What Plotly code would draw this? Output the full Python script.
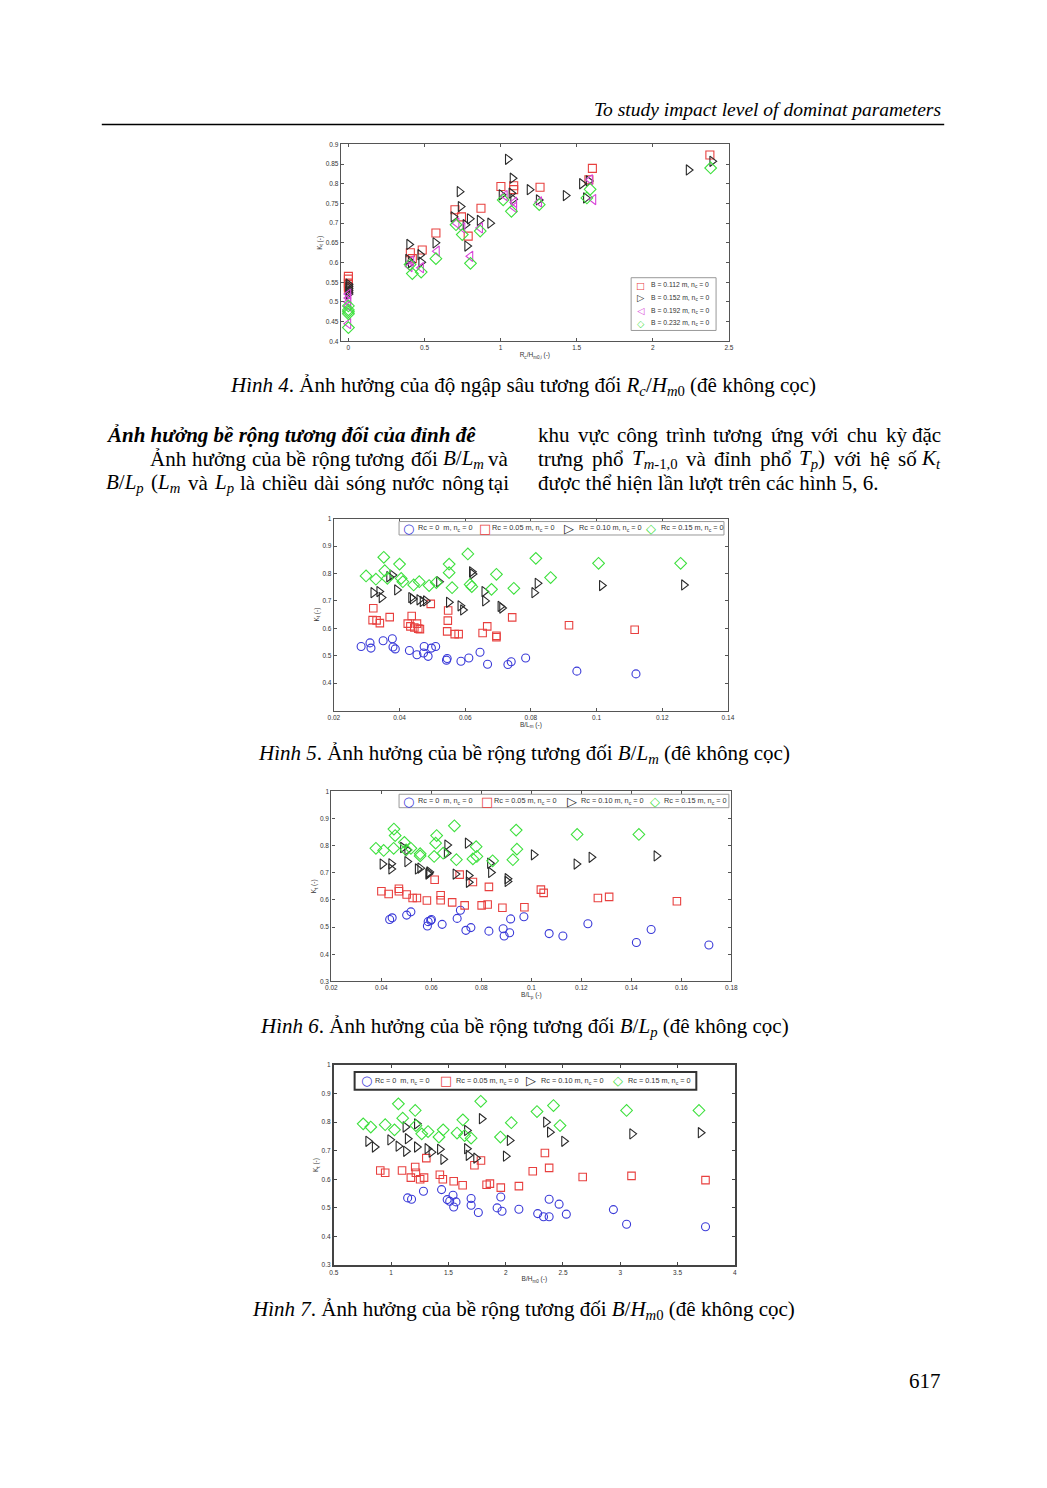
import re
import unicodedata
import plotly.graph_objects as go

W, H = 1047, 1488

# ---------------- Figure 4 data (Kt vs Rc/Hm0,i) ----------------
f4_b112_x = [0, 0, 0, 0, 0, 0.407, 0.42, 0.485, 0.575, 0.70, 0.743, 0.787, 0.871, 1.002, 1.086, 1.086, 1.259, 1.58, 1.603, 2.375]
f4_b112_y = [0.565, 0.558, 0.548, 0.54, 0.535, 0.625, 0.61, 0.632, 0.675, 0.734, 0.716, 0.667, 0.738, 0.793, 0.795, 0.785, 0.791, 0.81, 0.839, 0.873]
f4_b152_x = [0, 0, 0, 0, 0, 0, 0.392, 0.399, 0.41, 0.472, 0.478, 0.571, 0.69, 0.73, 0.737, 0.769, 0.78, 0.797, 0.862, 0.931,
             1.006, 1.047, 1.071, 1.078, 1.082, 1.19, 1.25, 1.427, 1.534, 1.56, 1.578, 2.235, 2.39]
f4_b152_y = [0.545, 0.54, 0.535, 0.53, 0.525, 0.52, 0.608, 0.646, 0.6, 0.62, 0.601, 0.65, 0.716, 0.78, 0.742, 0.696, 0.642, 0.711, 0.707, 0.70,
             0.772, 0.862, 0.776, 0.814, 0.761, 0.785, 0.759, 0.77, 0.80, 0.764, 0.807, 0.835, 0.857]
f4_b192_x = [0, 0, 0, 0, 0, 0.403, 0.414, 0.478, 0.582, 0.711, 0.75, 0.802, 0.866, 1.028, 1.09, 1.09, 1.254, 1.588, 1.61]
f4_b192_y = [0.52, 0.51, 0.5, 0.49, 0.445, 0.59, 0.604, 0.587, 0.629, 0.70, 0.688, 0.616, 0.688, 0.77, 0.753, 0.74, 0.754, 0.81, 0.76]
f4_b232_x = [0, 0, 0, 0, 0, 0.405, 0.42, 0.478, 0.575, 0.707, 0.748, 0.802, 0.866, 1.017, 1.071, 1.254, 1.567, 1.588, 2.38]
f4_b232_y = [0.49, 0.48, 0.475, 0.47, 0.435, 0.595, 0.572, 0.576, 0.61, 0.696, 0.671, 0.598, 0.68, 0.759, 0.73, 0.747, 0.764, 0.786, 0.84]

# ---------------- Figure 5 data (Kt vs B/Lm) ----------------
f5_rc0_x = [0.0283, 0.031, 0.0313, 0.035, 0.0378, 0.038, 0.0387, 0.043, 0.0453, 0.0475, 0.0473, 0.0487, 0.0497, 0.051, 0.0543,
            0.0545, 0.0587, 0.0611, 0.0645, 0.0668, 0.073, 0.074, 0.0784, 0.094, 0.112]
f5_rc0_y = [0.534, 0.547, 0.528, 0.555, 0.562, 0.532, 0.525, 0.519, 0.504, 0.534, 0.51, 0.498, 0.528, 0.534, 0.484,
            0.49, 0.48, 0.492, 0.513, 0.469, 0.468, 0.478, 0.492, 0.444, 0.434]
f5_rc05_x = [0.032, 0.0318, 0.033, 0.034, 0.037, 0.0425, 0.0437, 0.0433, 0.0445, 0.0453, 0.0457, 0.0462, 0.0495, 0.0548, 0.0547,
             0.0545, 0.0568, 0.058, 0.0653, 0.0667, 0.0695, 0.0695, 0.0743, 0.0916, 0.1116]
f5_rc05_y = [0.673, 0.63, 0.629, 0.619, 0.641, 0.617, 0.645, 0.607, 0.603, 0.617, 0.599, 0.597, 0.689, 0.665, 0.628,
             0.589, 0.579, 0.579, 0.583, 0.607, 0.573, 0.568, 0.64, 0.611, 0.595]
f5_rc10_x = [0.032, 0.0338, 0.0345, 0.0368, 0.0378, 0.0392, 0.0435, 0.044, 0.046, 0.047, 0.048, 0.052, 0.055, 0.0585, 0.0593,
             0.062, 0.0622, 0.0658, 0.066, 0.0707, 0.0712, 0.081, 0.082, 0.1016, 0.1266]
f5_rc10_y = [0.73, 0.734, 0.712, 0.788, 0.794, 0.74, 0.712, 0.707, 0.704, 0.698, 0.70, 0.77, 0.695, 0.682, 0.667,
             0.806, 0.798, 0.734, 0.70, 0.68, 0.674, 0.73, 0.764, 0.756, 0.758]
f5_rc15_x = [0.0298, 0.0328, 0.0352, 0.0355, 0.0363, 0.04, 0.0405, 0.041, 0.0443, 0.046, 0.049, 0.0512, 0.0551, 0.0551, 0.056,
             0.0608, 0.0615, 0.062, 0.068, 0.0695, 0.0748, 0.0815, 0.086, 0.1006, 0.1256]
f5_rc15_y = [0.791, 0.779, 0.859, 0.81, 0.782, 0.834, 0.782, 0.77, 0.758, 0.77, 0.756, 0.767, 0.834, 0.803, 0.748,
             0.871, 0.76, 0.752, 0.742, 0.797, 0.746, 0.855, 0.785, 0.837, 0.837]

# ---------------- Figure 6 data (Kt vs B/Lp) ----------------
f6_rc0_x = [0.0433, 0.0443, 0.0501, 0.0518, 0.0584, 0.0587, 0.0597, 0.06, 0.0643, 0.0703, 0.0716, 0.0738, 0.0758, 0.083, 0.0887,
            0.0891, 0.0913, 0.0917, 0.097, 0.1071, 0.1126, 0.1226, 0.142, 0.1479, 0.171]
f6_rc0_y = [0.528, 0.534, 0.544, 0.556, 0.504, 0.52, 0.524, 0.528, 0.51, 0.532, 0.562, 0.488, 0.498, 0.485, 0.494,
            0.467, 0.479, 0.53, 0.538, 0.476, 0.467, 0.512, 0.443, 0.491, 0.434]
f6_rc05_x = [0.04, 0.0429, 0.047, 0.047, 0.0501, 0.0525, 0.0542, 0.0582, 0.0613, 0.0637, 0.0637, 0.0683, 0.0713, 0.0733, 0.0766,
             0.0801, 0.0825, 0.083, 0.0884, 0.0972, 0.1038, 0.1049, 0.1266, 0.1311, 0.1582]
f6_rc05_y = [0.632, 0.622, 0.641, 0.632, 0.62, 0.607, 0.607, 0.598, 0.674, 0.617, 0.599, 0.591, 0.693, 0.58, 0.666,
             0.58, 0.583, 0.648, 0.571, 0.573, 0.638, 0.626, 0.607, 0.611, 0.595]
f6_rc10_x = [0.0404, 0.0439, 0.0439, 0.0486, 0.0503, 0.0503, 0.0545, 0.0555, 0.0591, 0.0587, 0.0589, 0.0663, 0.0661, 0.0696, 0.0745,
             0.0749, 0.0749, 0.0834, 0.0838, 0.0904, 0.0904, 0.1009, 0.118, 0.124, 0.15]
f6_rc10_y = [0.732, 0.733, 0.714, 0.793, 0.784, 0.741, 0.714, 0.717, 0.703, 0.695, 0.699, 0.802, 0.772, 0.695, 0.809,
             0.69, 0.665, 0.735, 0.701, 0.678, 0.668, 0.766, 0.732, 0.757, 0.762]
f6_rc15_x = [0.0378, 0.0409, 0.045, 0.0455, 0.0449, 0.0492, 0.0499, 0.0518, 0.0555, 0.0555, 0.0611, 0.0621, 0.0617, 0.0647, 0.07,
             0.0692, 0.0766, 0.0779, 0.0782, 0.0845, 0.0926, 0.0939, 0.0942, 0.1183, 0.143]
f6_rc15_y = [0.79, 0.782, 0.861, 0.837, 0.79, 0.812, 0.784, 0.79, 0.77, 0.762, 0.76, 0.837, 0.809, 0.772, 0.748,
             0.873, 0.751, 0.796, 0.76, 0.744, 0.748, 0.857, 0.787, 0.841, 0.841]

# ---------------- Figure 7 data (Kt vs B/Hm0) ----------------
f7_rc0_x = [1.144, 1.178, 1.282, 1.44, 1.489, 1.511, 1.54, 1.546, 1.566, 1.698, 1.698, 1.761, 1.925, 1.957, 1.968,
            2.115, 2.279, 2.33, 2.379, 2.379, 2.466, 2.529, 2.94, 3.055, 3.744]
f7_rc0_y = [0.535, 0.53, 0.558, 0.564, 0.529, 0.523, 0.544, 0.503, 0.521, 0.533, 0.509, 0.484, 0.5, 0.538, 0.488,
            0.495, 0.48, 0.469, 0.469, 0.53, 0.513, 0.478, 0.494, 0.443, 0.434]
f7_rc05_x = [0.905, 0.948, 1.095, 1.172, 1.21, 1.216, 1.253, 1.287, 1.307, 1.425, 1.451, 1.546, 1.624, 1.727, 1.784,
             1.833, 1.862, 1.957, 2.115, 2.236, 2.342, 2.379, 2.672, 3.098, 3.744]
f7_rc05_y = [0.631, 0.623, 0.631, 0.606, 0.643, 0.623, 0.6, 0.606, 0.674, 0.616, 0.6, 0.593, 0.579, 0.649, 0.666,
             0.581, 0.585, 0.571, 0.576, 0.628, 0.692, 0.64, 0.608, 0.612, 0.597]
f7_rc10_x = [0.799, 0.856, 0.991, 1.063, 1.129, 1.124, 1.144, 1.224, 1.224, 1.316, 1.351, 1.425, 1.454, 1.661, 1.661,
             1.675, 1.741, 1.79, 2.0, 2.034, 2.351, 2.385, 2.509, 3.103, 3.701]
f7_rc10_y = [0.733, 0.713, 0.738, 0.716, 0.698, 0.783, 0.742, 0.794, 0.713, 0.707, 0.695, 0.705, 0.67, 0.707, 0.771,
             0.684, 0.674, 0.812, 0.681, 0.736, 0.8, 0.765, 0.733, 0.759, 0.763]
f7_rc15_x = [0.756, 0.822, 0.948, 1.029, 1.063, 1.101, 1.21, 1.216, 1.267, 1.322, 1.417, 1.454, 1.575, 1.626, 1.641,
             1.698, 1.782, 1.954, 2.049, 2.273, 2.417, 2.474, 3.055, 3.687]
f7_rc15_y = [0.794, 0.783, 0.791, 0.773, 0.864, 0.814, 0.841, 0.788, 0.759, 0.767, 0.748, 0.773, 0.762, 0.808, 0.753,
             0.744, 0.873, 0.748, 0.798, 0.837, 0.858, 0.788, 0.841, 0.841]

# ---------------- labels ----------------
f4_names = ["B = 0.112 m, n<sub>c</sub> = 0", "B = 0.152 m, n<sub>c</sub> = 0",
            "B = 0.192 m, n<sub>c</sub> = 0", "B = 0.232 m, n<sub>c</sub> = 0"]
rc_names = ["Rc = 0  m, n<sub>c</sub> = 0", "Rc = 0.05 m, n<sub>c</sub> = 0",
            "Rc = 0.10 m, n<sub>c</sub> = 0", "Rc = 0.15 m, n<sub>c</sub> = 0"]

f4_xticks = [0, 0.5, 1, 1.5, 2, 2.5]
f4_xticktext = ["0", "0.5", "1", "1.5", "2", "2.5"]
f4_yticks = [0.4, 0.45, 0.5, 0.55, 0.6, 0.65, 0.7, 0.75, 0.8, 0.85, 0.9]
f4_yticktext = ["0.4", "0.45", "0.5", "0.55", "0.6", "0.65", "0.7", "0.75", "0.8", "0.85", "0.9"]
f5_xticks = [0.02, 0.04, 0.06, 0.08, 0.1, 0.12, 0.14]
f5_xticktext = ["0.02", "0.04", "0.06", "0.08", "0.1", "0.12", "0.14"]
f6_xticks = [0.02, 0.04, 0.06, 0.08, 0.1, 0.12, 0.14, 0.16, 0.18]
f6_xticktext = ["0.02", "0.04", "0.06", "0.08", "0.1", "0.12", "0.14", "0.16", "0.18"]
f7_xticks = [0.5, 1, 1.5, 2, 2.5, 3, 3.5, 4]
f7_xticktext = ["0.5", "1", "1.5", "2", "2.5", "3", "3.5", "4"]
kt_yticks = [0.3, 0.4, 0.5, 0.6, 0.7, 0.8, 0.9, 1.0]
kt_yticktext = ["0.3", "0.4", "0.5", "0.6", "0.7", "0.8", "0.9", "1"]
f5_yticks = [0.4, 0.5, 0.6, 0.7, 0.8, 0.9, 1.0]
f5_yticktext = ["0.4", "0.5", "0.6", "0.7", "0.8", "0.9", "1"]

RED = "#e8403f"
BLACK = "#2a2a2a"
MAG = "#d845d8"
GREEN = "#3ee03e"
BLUE = "#3a3ad8"

SERIF = "Liberation Serif, DejaVu Serif, serif"
SANS = "Liberation Sans, Arial, sans-serif"
GLYPH = "DejaVu Sans, sans-serif"

fig = go.Figure()


def add(xs, ys, name, sym, col, size, xa, ya):
    fig.add_trace(go.Scatter(
        x=xs, y=ys, mode="markers", name=name, showlegend=False,
        marker=dict(symbol=sym, size=size, color=col, line=dict(width=1.1, color=col)),
        xaxis=xa, yaxis=ya))


# Fig 4
add(f4_b112_x, f4_b112_y, f4_names[0], "square-open", RED, 8, "x", "y")
add(f4_b152_x, f4_b152_y, f4_names[1], "triangle-right-open", BLACK, 9, "x", "y")
add(f4_b192_x, f4_b192_y, f4_names[2], "triangle-left-open", MAG, 9, "x", "y")
add(f4_b232_x, f4_b232_y, f4_names[3], "diamond-open", GREEN, 9, "x", "y")
# Fig 5
add(f5_rc0_x, f5_rc0_y, rc_names[0], "circle-open", BLUE, 8, "x2", "y2")
add(f5_rc05_x, f5_rc05_y, rc_names[1], "square-open", RED, 7.5, "x2", "y2")
add(f5_rc10_x, f5_rc10_y, rc_names[2], "triangle-right-open", BLACK, 9, "x2", "y2")
add(f5_rc15_x, f5_rc15_y, rc_names[3], "diamond-open", GREEN, 9, "x2", "y2")
# Fig 6
add(f6_rc0_x, f6_rc0_y, rc_names[0], "circle-open", BLUE, 8, "x3", "y3")
add(f6_rc05_x, f6_rc05_y, rc_names[1], "square-open", RED, 7.5, "x3", "y3")
add(f6_rc10_x, f6_rc10_y, rc_names[2], "triangle-right-open", BLACK, 9, "x3", "y3")
add(f6_rc15_x, f6_rc15_y, rc_names[3], "diamond-open", GREEN, 9, "x3", "y3")
# Fig 7
add(f7_rc0_x, f7_rc0_y, rc_names[0], "circle-open", BLUE, 8, "x4", "y4")
add(f7_rc05_x, f7_rc05_y, rc_names[1], "square-open", RED, 7.5, "x4", "y4")
add(f7_rc10_x, f7_rc10_y, rc_names[2], "triangle-right-open", BLACK, 9, "x4", "y4")
add(f7_rc15_x, f7_rc15_y, rc_names[3], "diamond-open", GREEN, 9, "x4", "y4")


def px(v):
    return v / W


def py(v):
    return 1 - v / H


def axis_common(lw=1.2, lc="#555555"):
    return dict(showgrid=False, zeroline=False, showline=True, linecolor=lc, linewidth=lw,
                mirror="allticks", ticks="inside", ticklen=3, tickcolor=lc, tickwidth=1,
                tickfont=dict(family=SANS, size=6.5, color="#333333"))


tfont = dict(family=SANS, size=6.5, color="#333333")

layout = dict(
    width=W, height=H, margin=dict(l=0, r=0, t=0, b=0),
    paper_bgcolor="white", plot_bgcolor="white", showlegend=False,
    # Fig 4
    xaxis=dict(domain=[px(339), px(732)], range=[-0.05, 2.5], tickvals=f4_xticks, ticktext=f4_xticktext,
               title=dict(text="R<sub>c</sub>/H<sub>m0,i</sub> (-)", font=tfont, standoff=2), anchor="y", **axis_common()),
    yaxis=dict(domain=[py(339), py(141)], range=[0.4, 0.9], tickvals=f4_yticks, ticktext=f4_yticktext,
               title=dict(text="K<sub>t</sub> (-)", font=tfont, standoff=2), anchor="x", **axis_common()),
    # Fig 5
    xaxis2=dict(domain=[px(332), px(731)], range=[0.02, 0.14], tickvals=f5_xticks, ticktext=f5_xticktext,
                title=dict(text="B/L<sub>m</sub> (-)", font=tfont, standoff=2), anchor="y2", **axis_common()),
    yaxis2=dict(domain=[py(710), py(517)], range=[0.3, 1.0], tickvals=f5_yticks, ticktext=f5_yticktext,
                title=dict(text="K<sub>t</sub> (-)", font=tfont, standoff=2), anchor="x2", **axis_common()),
    # Fig 6
    xaxis3=dict(domain=[px(329.5), px(734.5)], range=[0.02, 0.18], tickvals=f6_xticks, ticktext=f6_xticktext,
                title=dict(text="B/L<sub>p</sub> (-)", font=tfont, standoff=2), anchor="y3", **axis_common()),
    yaxis3=dict(domain=[py(982), py(791)], range=[0.3, 1.0], tickvals=kt_yticks, ticktext=kt_yticktext,
                title=dict(text="K<sub>t</sub> (-)", font=tfont, standoff=2), anchor="x3", **axis_common()),
    # Fig 7
    xaxis4=dict(domain=[px(332), px(738)], range=[0.5, 4.0], tickvals=f7_xticks, ticktext=f7_xticktext,
                title=dict(text="B/H<sub>m0</sub> (-)", font=tfont, standoff=2), anchor="y4",
                **axis_common(lw=2, lc="#444444")),
    yaxis4=dict(domain=[py(1267), py(1066)], range=[0.3, 1.0], tickvals=kt_yticks, ticktext=kt_yticktext,
                title=dict(text="K<sub>t</sub> (-)", font=tfont, standoff=2), anchor="x4",
                **axis_common(lw=2, lc="#444444")),
)
fig.update_layout(**layout)


# ---------------- legends (boxes + glyph + label text) ----------------
def legend_box(x0, x1, y0, y1, color, width):
    fig.add_shape(type="rect", xref="paper", yref="paper", x0=px(x0), x1=px(x1), y0=py(y1), y1=py(y0),
                  line=dict(color=color, width=width), fillcolor="white", layer="above")


def legend_entry(glyph, color, label, gx, tx, y, size=7.3, gsize=13):
    fig.add_annotation(text=glyph, x=px(gx), y=py(y), xref="paper", yref="paper", xanchor="center",
                       yanchor="middle", showarrow=False, borderpad=0,
                       font=dict(family=GLYPH, size=gsize, color=color))
    fig.add_annotation(text=label, x=px(tx), y=py(y), xref="paper", yref="paper", xanchor="left",
                       yanchor="middle", showarrow=False, borderpad=0,
                       font=dict(family=SANS, size=size, color="#333333"))


f4_glyphs = ["□", "▷", "◁", "◇"]
f4_cols = [RED, BLACK, MAG, GREEN]
rc_glyphs = ["○", "□", "▷", "◇"]
rc_cols = [BLUE, RED, BLACK, GREEN]

# Fig 4 legend (vertical)
legend_box(633, 719, 275, 328, "#999999", 1)
for i, (g, c, n) in enumerate(zip(f4_glyphs, f4_cols, f4_names)):
    legend_entry(g, c, n, 642.5, 652, 282.5 + 12.8 * i, size=6.8, gsize=9.5)

# Fig 5 / 6 / 7 legends (horizontal)
for (bx0, bx1, by0, by1, bcol, bw, gxs, txs, yc) in [
    (398, 727, 520, 533.5, "#999999", 1, [408, 485, 570, 653], [416, 491, 579, 662], 526.8),
    (398, 732, 794, 807.5, "#999999", 1, [408, 487, 573, 657], [416, 493, 581, 665], 800.8),
    (353, 699, 1073, 1091, "#333333", 2, [365, 446, 532, 620], [373, 455, 541, 629], 1082),
]:
    legend_box(bx0, bx1, by0, by1, bcol, bw)
    for g, c, n, gx, tx in zip(rc_glyphs, rc_cols, rc_names, gxs, txs):
        legend_entry(g, c, n, gx, tx, yc)

# ---------------- page text ----------------
FS = 21
HFS = 19.5

# Times-compatible advance widths (1/1000 em) used to justify the body lines
TW = {' ': 250, 'a': 444, 'b': 500, 'c': 444, 'd': 500, 'e': 444, 'f': 333, 'g': 500, 'h': 500, 'i': 278, 'j': 278,
      'k': 500, 'l': 278, 'm': 778, 'n': 500, 'o': 500, 'p': 500, 'q': 500, 'r': 333, 's': 389, 't': 278, 'u': 500,
      'v': 500, 'w': 722, 'x': 500, 'y': 500, 'z': 444, 'A': 722, 'B': 667, 'C': 667, 'D': 722, 'E': 611, 'F': 556,
      'G': 722, 'H': 722, 'I': 333, 'J': 389, 'K': 667, 'L': 556, 'M': 833, 'N': 667, 'O': 722, 'P': 611, 'Q': 722,
      'R': 611, 'S': 500, 'T': 556, 'U': 722, 'V': 611, 'W': 833, 'X': 611, 'Y': 556, 'Z': 556,
      '(': 333, ')': 333, ',': 250, '.': 250, '/': 278, '-': 333}


def char_w(ch):
    if ch == 'đ':
        return 500
    if ch == 'Đ':
        return 722
    d = unicodedata.normalize('NFD', ch)
    w = TW.get(d[0], 500)
    if '\u031b' in d:
        w += 60
    return w


def word_width(word, fs):
    scale = 1.0
    total = 0.0
    for tok in re.split(r'(<[^>]+>)', word):
        if tok.startswith('<'):
            if tok == '<sub>':
                scale = 0.7
            elif tok == '</sub>':
                scale = 1.0
            continue
        for ch in tok:
            total += char_w(ch) * scale
    return total / 1000.0 * fs


def text(s, x, y, anchor="left", size=FS):
    fig.add_annotation(text=s, x=px(x), y=py(y), xref="paper", yref="paper",
                       xanchor=anchor, yanchor="middle", showarrow=False, borderpad=0,
                       font=dict(family=SERIF, size=size, color="black"))


def justify(line, left, right, y):
    words = line.split(' ')
    ws = [word_width(w, FS) for w in words]
    gap = (right - left - sum(ws)) / (len(words) - 1)
    x = left
    for i, w in enumerate(words):
        if i == len(words) - 1:
            text(w, right, y, anchor="right")
        else:
            text(w, x, y, anchor="left")
        x += ws[i] + gap


text("<i>To study impact level of dominat parameters</i>", 948, 106, anchor="right", size=HFS)
fig.add_shape(type="line", xref="paper", yref="paper", x0=px(97), x1=px(950), y0=py(121), y1=py(121),
              line=dict(color="black", width=1.5))

text("<i>Hình 4</i>. Ảnh hưởng của độ ngập sâu tương đối <i>R<sub>c</sub></i>/<i>H<sub>m</sub></i><sub>0</sub> (đê không cọc)",
     524, 384, anchor="center")

text("<b><i>Ảnh hưởng bề rộng tương đối của đỉnh đê</i></b>", 100, 433)
justify("Ảnh hưởng của bề rộng tương đối <i>B</i>/<i>L<sub>m</sub></i> và", 145, 510, 457)
justify("<i>B</i>/<i>L<sub>p</sub></i> (<i>L<sub>m</sub></i> và <i>L<sub>p</sub></i> là chiều dài sóng nước nông tại",
        100, 510, 481)
justify("khu vực công trình tương ứng với chu kỳ đặc", 538, 948, 433)
justify("trưng phổ <i>T<sub>m</sub></i><sub>-1,0</sub> và đỉnh phổ <i>T<sub>p</sub></i>) với hệ số <i>K<sub>t</sub></i>",
        538, 948, 457)
text("được thể hiện lần lượt trên các hình 5, 6.", 538, 481)

text("<i>Hình 5</i>. Ảnh hưởng của bề rộng tương đối <i>B</i>/<i>L<sub>m</sub></i> (đê không cọc)", 525, 754, anchor="center")
text("<i>Hình 6</i>. Ảnh hưởng của bề rộng tương đối <i>B</i>/<i>L<sub>p</sub></i> (đê không cọc)", 525, 1028, anchor="center")
text("<i>Hình 7</i>. Ảnh hưởng của bề rộng tương đối <i>B</i>/<i>H<sub>m</sub></i><sub>0</sub> (đê không cọc)", 524, 1312, anchor="center")
text("617", 948, 1384, anchor="right")

fig.write_html("out.html")
